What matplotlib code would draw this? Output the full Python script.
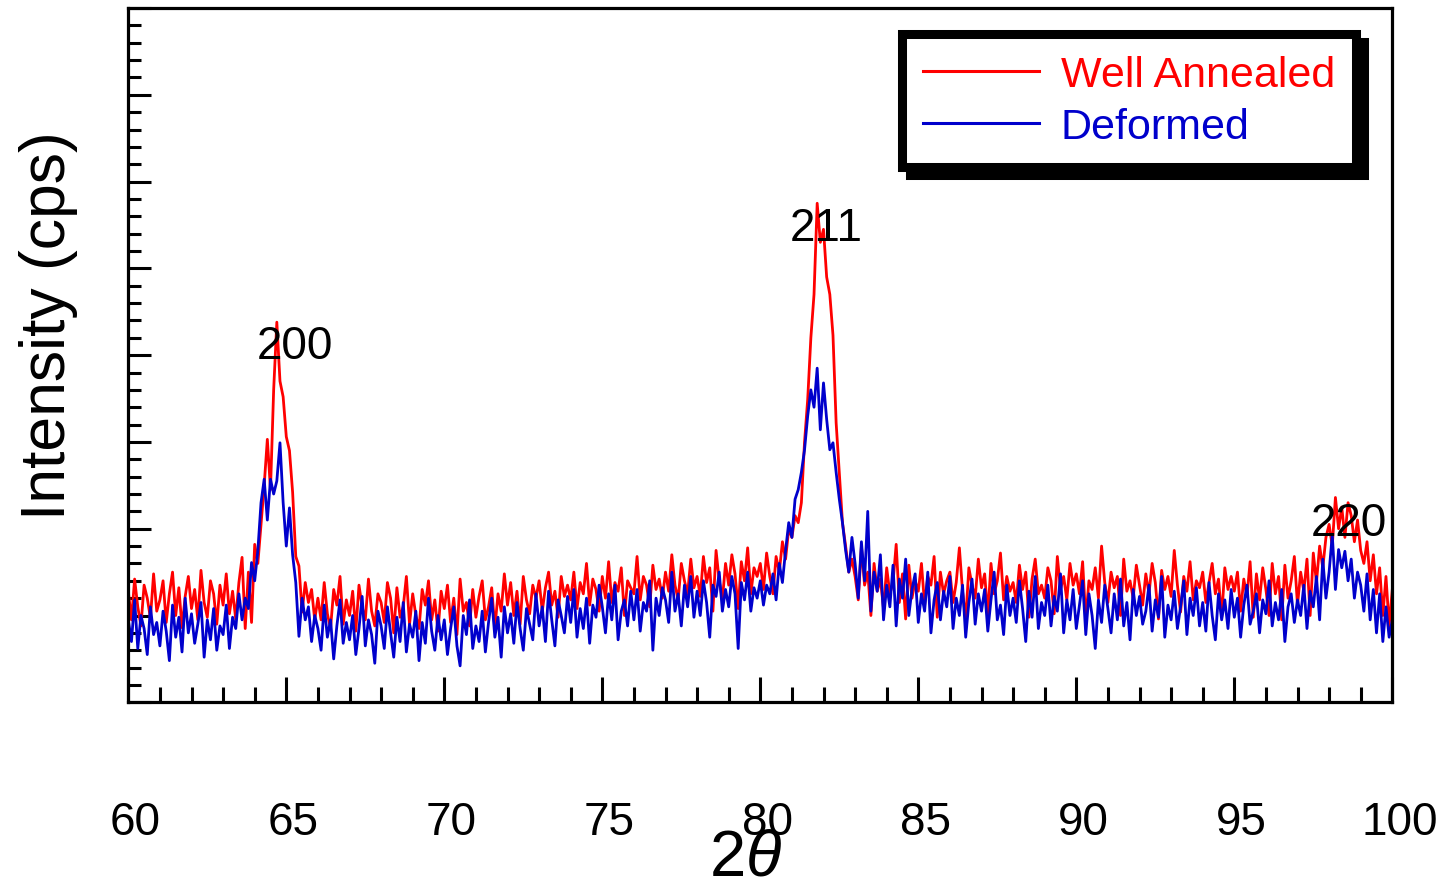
import numpy as np
import matplotlib
matplotlib.use("Agg")
import matplotlib.pyplot as plt
from matplotlib.ticker import MultipleLocator
from matplotlib.patches import Rectangle
from matplotlib.transforms import ScaledTranslation

plt.rcParams['font.family'] = ['Liberation Sans', 'DejaVu Sans']
plt.rcParams['mathtext.fontset'] = 'custom'
plt.rcParams['mathtext.rm'] = 'Liberation Sans'
plt.rcParams['mathtext.it'] = 'Liberation Sans:italic'

# scan: 2theta from 60 to 100 deg, 0.1 deg step (one row per degree)
theta_start = 60.0
theta_step = 0.1

well_annealed = [
    128, 95, 142, 110, 88, 135, 120, 97, 148, 105,      # 60
    118, 140, 92, 125, 150, 100, 132, 86, 122, 145,     # 61
    108, 130, 95, 152, 115, 98, 140, 125, 90, 135,      # 62
    112, 148, 102, 128, 96, 138, 167, 85, 150, 92,      # 63
    182, 160, 205, 250, 303, 245, 360, 438, 370, 352,   # 64
    306, 290, 242, 168, 157, 104, 138, 115, 130, 95,    # 65
    120, 95, 138, 102, 85, 130, 112, 145, 90, 118,      # 66
    100, 128, 82, 135, 110, 95, 142, 105, 88, 125,      # 67
    115, 92, 138, 120, 80, 132, 98, 110, 145, 90,       # 68
    125, 100, 85, 130, 112, 140, 95, 118, 82, 128,      # 69
    108, 135, 92, 120, 78, 142, 105, 115, 88, 130,      # 70
    98, 122, 140, 95, 110, 132, 85, 125, 105, 148,      # 71
    112, 138, 100, 128, 90, 145, 118, 102, 135, 120,    # 72
    140, 105, 132, 150, 112, 128, 98, 145, 122, 135,    # 73
    118, 150, 108, 138, 125, 160, 112, 142, 130, 105,   # 74
    145, 120, 162, 115, 138, 128, 155, 100, 140, 132,   # 75
    125, 168, 118, 145, 135, 110, 158, 130, 142, 120,   # 76
    150, 128, 170, 135, 118, 160, 140, 125, 165, 132,   # 77
    145, 122, 168, 138, 155, 105, 175, 140, 118, 160,   # 78
    135, 170, 148, 108, 162, 140, 178, 125, 155, 145,   # 79
    160, 130, 172, 145, 125, 168, 150, 185, 165, 200,   # 80
    190, 215, 207, 230, 300, 349, 420, 470, 575, 530,   # 81
    545, 490, 470, 423, 322, 265, 207, 180, 150, 165,   # 82
    145, 118, 180, 135, 150, 100, 160, 128, 142, 108,   # 83
    155, 125, 138, 182, 115, 148, 96, 158, 120, 140,    # 84
    128, 160, 112, 145, 135, 168, 98, 150, 125, 140,    # 85
    150, 115, 138, 178, 128, 95, 155, 135, 120, 165,    # 86
    132, 148, 100, 160, 125, 140, 172, 118, 145, 128,   # 87
    138, 115, 158, 130, 150, 98, 142, 165, 125, 135,    # 88
    120, 155, 140, 102, 168, 130, 145, 118, 160, 135,   # 89
    148, 125, 162, 95, 140, 130, 155, 120, 180, 138,    # 90
    115, 150, 132, 145, 100, 165, 128, 140, 120, 158,   # 91
    135, 112, 148, 125, 160, 138, 96, 152, 130, 145,    # 92
    122, 175, 135, 104, 145, 128, 162, 118, 140, 132,   # 93
    150, 115, 138, 160, 125, 142, 98, 155, 130, 145,    # 94
    128, 150, 105, 142, 122, 162, 98, 148, 118, 155,    # 95
    130, 100, 160, 125, 145, 95, 158, 120, 140, 168,    # 96
    112, 150, 128, 165, 100, 172, 138, 180, 155, 190,   # 97
    205, 180, 236, 200, 225, 190, 230, 215, 185, 210,   # 98
    175, 160, 185, 140, 170, 125, 155, 100, 145, 88,    # 99
    130,                                                # 100
]

deformed = [
    95, 70, 118, 62, 100, 85, 55, 110, 78, 92,          # 60
    65, 105, 82, 48, 112, 75, 98, 58, 120, 80,          # 61
    102, 68, 90, 115, 52, 95, 72, 108, 60, 88,          # 62
    78, 112, 62, 98, 85, 125, 95, 120, 108, 161,        # 63
    140, 175, 230, 257, 210, 257, 240, 255, 299, 230,   # 64
    180, 224, 170, 138, 76, 120, 95, 110, 70, 100,      # 65
    85, 60, 112, 75, 95, 50, 88, 118, 68, 92,           # 66
    72, 100, 55, 85, 122, 65, 95, 78, 45, 105,          # 67
    88, 62, 110, 80, 52, 98, 70, 115, 58, 90,           # 68
    75, 105, 48, 92, 68, 120, 82, 60, 100, 72,          # 69
    95, 55, 85, 110, 65, 42, 100, 78, 118, 62,          # 70
    88, 70, 105, 58, 92, 120, 75, 98, 52, 110,          # 71
    80, 102, 68, 115, 85, 60, 108, 90, 72, 125,         # 72
    88, 110, 70, 128, 95, 65, 118, 100, 80, 122,        # 73
    92, 130, 75, 108, 85, 120, 68, 112, 98, 135,        # 74
    110, 80, 125, 95, 135, 72, 105, 118, 88, 128,       # 75
    95, 130, 82, 115, 105, 140, 60, 120, 100, 132,      # 76
    118, 92, 150, 105, 125, 88, 135, 110, 145, 98,      # 77
    128, 100, 140, 115, 75, 135, 122, 150, 105, 130,    # 78
    110, 145, 125, 62, 138, 118, 150, 105, 132, 120,    # 79
    140, 112, 135, 125, 148, 118, 160, 138, 175, 207,   # 80
    190, 234, 245, 265, 291, 330, 360, 340, 385, 314,   # 81
    368, 326, 291, 299, 265, 234, 207, 175, 150, 190,   # 82
    160, 120, 185, 140, 220, 105, 150, 128, 170, 95,    # 83
    135, 110, 158, 88, 142, 120, 165, 100, 130, 148,    # 84
    92, 125, 105, 150, 80, 118, 138, 95, 128, 110,      # 85
    145, 85, 120, 100, 135, 75, 115, 142, 90, 125,      # 86
    105, 130, 82, 118, 150, 95, 112, 78, 135, 100,      # 87
    120, 92, 140, 108, 70, 128, 98, 145, 85, 115,       # 88
    100, 135, 88, 122, 105, 148, 80, 118, 95, 130,      # 89
    85, 112, 140, 78, 125, 100, 62, 118, 92, 135,       # 90
    108, 80, 125, 95, 142, 88, 115, 72, 130, 100,       # 91
    122, 90, 105, 135, 82, 118, 98, 145, 75, 112,       # 92
    95, 128, 85, 110, 140, 78, 120, 100, 132, 88,       # 93
    115, 82, 138, 100, 72, 125, 95, 118, 85, 130,       # 94
    98, 120, 75, 112, 135, 90, 105, 125, 80, 118,       # 95
    102, 140, 88, 115, 95, 130, 70, 110, 125, 92,       # 96
    118, 100, 135, 85, 128, 110, 145, 95, 165, 120,     # 97
    150, 193, 130, 176, 155, 174, 140, 165, 120, 150,   # 98
    135, 105, 148, 95, 130, 80, 125, 70, 110, 75,       # 99
    95,                                                 # 100
]

peak_labels = ['200', '211', '220']
peak_pos = [65.28, 82.10, 98.64]
peak_y = [397, 533, 193]

two_theta = theta_start + theta_step * np.arange(len(well_annealed))

fig = plt.figure(figsize=(14.42, 8.87), dpi=100)
ax = fig.add_axes([128.3 / 1442, 1 - 703.3 / 887, 1264 / 1442, 694.3 / 887])

ax.plot(two_theta, well_annealed, color='#ff0000', lw=2.0, label='Well Annealed')
ax.plot(two_theta, deformed, color='#0000cc', lw=2.0, label='Deformed')

for lab, px, py in zip(peak_labels, peak_pos, peak_y):
    ax.text(px, py, lab, fontsize=33, ha='center', va='baseline', zorder=6)

ax.set_xlim(60, 100)
ax.set_ylim(0, 800)
ax.xaxis.set_major_locator(MultipleLocator(5))
ax.xaxis.set_minor_locator(MultipleLocator(1))
ax.yaxis.set_major_locator(MultipleLocator(100))
ax.yaxis.set_minor_locator(MultipleLocator(20))
ax.tick_params(axis='x', which='major', direction='in', length=18, width=2.2,
               labelsize=33, pad=70)
ax.tick_params(axis='x', which='minor', direction='in', length=10.5, width=2.2)
ax.tick_params(axis='y', which='major', direction='in', length=16.5, width=2.2,
               labelleft=False)
ax.tick_params(axis='y', which='minor', direction='in', length=9.4, width=2.2)
for sp in ax.spines.values():
    sp.set_linewidth(2.3)

# tick labels sit a little to the right of their ticks
shift = ScaledTranslation(7 / 100, 0, fig.dpi_scale_trans)
for lab in ax.get_xticklabels():
    lab.set_transform(lab.get_transform() + shift)

ax.set_xlabel(r'$2\theta$', fontsize=47, va='top')
ax.xaxis.set_label_coords(0.488, -0.18)
ax.set_ylabel('Intensity (cps)', fontsize=45)
ax.yaxis.set_label_coords(-0.0395, 0.544)

leg = ax.legend(loc='upper right', bbox_to_anchor=(0.971, 0.9626), borderaxespad=0,
                fontsize=31, fancybox=False, framealpha=1, edgecolor='black',
                handlelength=2.7, handletextpad=0.5, borderpad=0.48,
                labelspacing=0.28, labelcolor='linecolor')
leg.get_frame().set_linewidth(6.5)
for h in leg.get_lines():
    h.set_linewidth(2.2)

# heavy drop shadow behind the legend box
fig.canvas.draw()
bb = leg.get_frame().get_window_extent(fig.canvas.get_renderer())
bb = bb.transformed(ax.transAxes.inverted())
off_x = 8 / ax.bbox.width
off_y = 8 / ax.bbox.height
ax.add_patch(Rectangle((bb.x0 + off_x, bb.y0 - off_y), bb.width, bb.height,
                       transform=ax.transAxes, facecolor='black', edgecolor='black',
                       lw=6.5, zorder=4.9, clip_on=False))

fig.savefig('out.png', dpi=100)
